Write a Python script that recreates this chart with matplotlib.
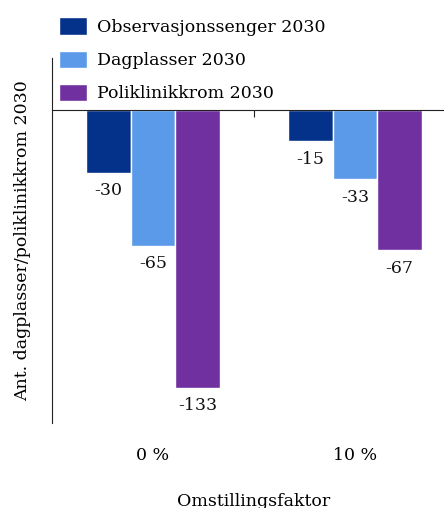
import matplotlib
matplotlib.use("Agg")
import matplotlib.pyplot as plt
import numpy as np

categories = ["0 %", "10 %"]
series_names = ["Observasjonssenger 2030", "Dagplasser 2030", "Poliklinikkrom 2030"]
observasjon = [-30, -15]
dagplasser = [-65, -33]
poliklinikk = [-133, -67]
values = [observasjon, dagplasser, poliklinikk]
colors = ["#04318A", "#5A9AE8", "#7030A0"]

plt.rcParams['font.family'] = ['DejaVu Serif']
FS = 12.5

W, H = 444, 508
fig = plt.figure(figsize=(W / 100, H / 100), dpi=100)
ax = fig.add_axes([52 / W, (H - 423) / H, (456 - 52) / W, (423 - 58) / H])

x = np.arange(len(categories))
bw = 0.22
for i, (name, vals, c) in enumerate(zip(series_names, values, colors)):
    bars = ax.bar(x + (i - 1) * bw, vals, bw, color=c, edgecolor="white",
                  linewidth=1, label=name, zorder=2)
    for rect, v in zip(bars, vals):
        ax.annotate(f"{v}", (rect.get_x() + rect.get_width() / 2, v),
                    xytext=(0, -7), textcoords="offset points",
                    ha="center", va="top", fontsize=FS, color="#111111")

ax.set_xlim(-0.5, 1.5)
ax.set_ylim(-150, 25)

for s in ["top", "right"]:
    ax.spines[s].set_visible(False)
ax.spines["bottom"].set_position(("data", 0))
ax.spines["bottom"].set_color("#222222")
ax.spines["left"].set_color("#222222")
ax.set_xticks([0.5])
ax.set_xticklabels([""])
ax.tick_params(axis="x", direction="out", length=5, color="#222222")
ax.set_yticks([])

sec = ax.secondary_xaxis("bottom")
sec.spines["bottom"].set_visible(False)
sec.set_xticks(x)
sec.set_xticklabels(categories, fontsize=FS)
sec.tick_params(length=0, pad=17)
sec.set_xlabel("Omstillingsfaktor", fontsize=FS, labelpad=21)

ax.set_ylabel("Ant. dagplasser/poliklinikkrom 2030", fontsize=FS, labelpad=15)

leg = ax.legend(loc="upper left", bbox_to_anchor=(0.0, 1.13), frameon=False,
                fontsize=FS, handlelength=1.6, handleheight=1.15,
                handletextpad=0.6, labelspacing=0.85, borderaxespad=0)

fig.savefig("out.png", dpi=100)
